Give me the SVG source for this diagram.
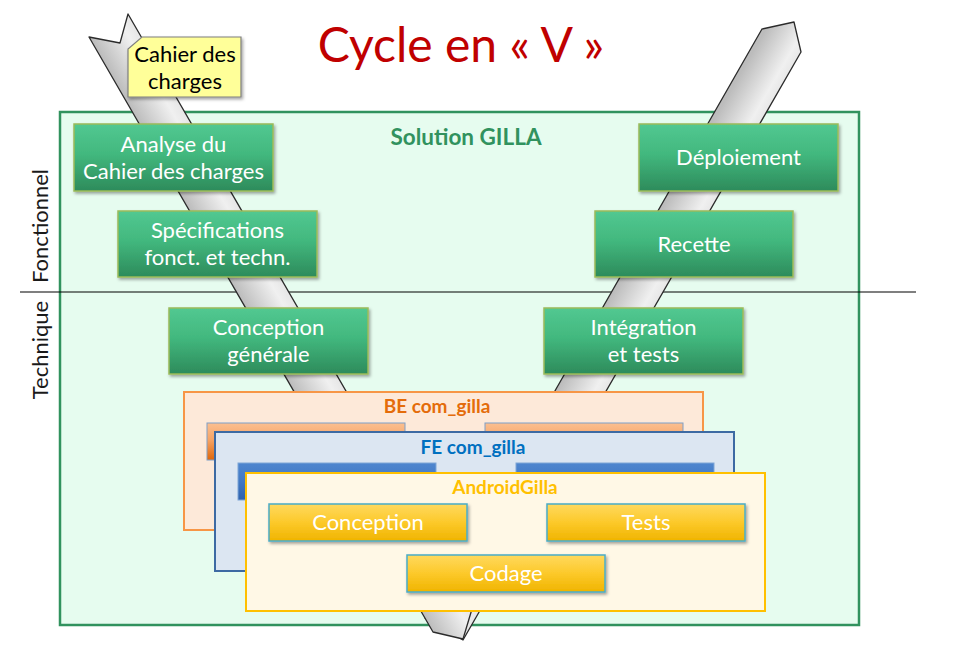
<svg xmlns="http://www.w3.org/2000/svg" width="959" height="658" viewBox="0 0 959 658">
<style>
  text { font-family: Lato, "Liberation Sans", sans-serif; }
  .box { stroke: #9bbb59; stroke-width: 1.5; fill: url(#gGreen); filter: url(#sh); }
  .bt { fill: #ffffff; font-size: 22px; text-anchor: middle; }
  .arm { stroke: #2b2b2b; stroke-width: 1.3; stroke-linejoin: round; }
  .ybox { stroke: #4bacc6; stroke-width: 1.5; fill: url(#gYellow); filter: url(#sh); }
  .side { fill: #1a1a1a; font-size: 22px; text-anchor: middle; }
  .ttl { font-weight: bold; font-size: 19px; text-anchor: middle; }
</style>
<defs>
  <linearGradient id="gGreen" x1="0" y1="0" x2="0" y2="1">
    <stop offset="0" stop-color="#52c891"/>
    <stop offset="0.45" stop-color="#42b87e"/>
    <stop offset="1" stop-color="#2d8b5b"/>
  </linearGradient>
  <linearGradient id="gYellow" x1="0" y1="0" x2="0" y2="1">
    <stop offset="0" stop-color="#ffd95e"/>
    <stop offset="0.5" stop-color="#fcc92a"/>
    <stop offset="1" stop-color="#f0b400"/>
  </linearGradient>
  <linearGradient id="gOrange" x1="0" y1="0" x2="0" y2="1">
    <stop offset="0" stop-color="#fbbf90"/>
    <stop offset="0.45" stop-color="#f6a466"/>
    <stop offset="1" stop-color="#e0670a"/>
  </linearGradient>
  <linearGradient id="gBlue" x1="0" y1="0" x2="0" y2="1">
    <stop offset="0" stop-color="#4f86cf"/>
    <stop offset="0.5" stop-color="#4178c3"/>
    <stop offset="1" stop-color="#2f62ad"/>
  </linearGradient>
  <linearGradient id="gArmL" gradientUnits="userSpaceOnUse" x1="433" y1="632" x2="472" y2="609.5">
    <stop offset="0" stop-color="#bcbcbc"/>
    <stop offset="0.75" stop-color="#f0f0f0"/>
    <stop offset="1" stop-color="#e6e6e6"/>
  </linearGradient>
  <linearGradient id="gArmR" gradientUnits="userSpaceOnUse" x1="425" y1="618" x2="463" y2="640">
    <stop offset="0" stop-color="#bcbcbc"/>
    <stop offset="0.75" stop-color="#f0f0f0"/>
    <stop offset="1" stop-color="#e6e6e6"/>
  </linearGradient>
  <filter id="sh" x="-10%" y="-15%" width="125%" height="145%">
    <feDropShadow dx="1.5" dy="2" stdDeviation="1.5" flood-color="#000" flood-opacity="0.35"/>
  </filter>
</defs>

<rect width="959" height="658" fill="#ffffff"/>

<g id="title">
  <text x="461" y="62" fill="#c00000" style="font-size:48px" text-anchor="middle">Cycle en « V »</text>
</g>

<g id="solution-gilla">
  <rect x="60" y="112" width="799" height="513" fill="#e6fcef" stroke="#31925e" stroke-width="2.5"/>
  <text x="466" y="145" class="ttl" fill="#31925e" style="font-size:22.5px">Solution GILLA</text>
</g>

<g id="connectors">
  <line x1="20" y1="292" x2="916" y2="292" stroke="#000" stroke-width="1.2"/>
  <polygon class="arm" fill="url(#gArmR)" points="425,618 762,29 794,22 801,52 463,640"/>
  <polygon class="arm" fill="url(#gArmL)" points="128,14 472,609 463,639 433,632 89,37 120,43"/>
</g>

<g id="label-fonctionnel">
  <text class="side" transform="translate(48,226) rotate(-90)">Fonctionnel</text>
</g>
<g id="label-technique">
  <text class="side" transform="translate(48,350) rotate(-90)">Technique</text>
</g>

<g id="cahier-des-charges">
  <polygon points="142,37 241,37 241,97 128,97 128,49" fill="#ffff99" stroke="#7f7f7f" stroke-width="1.2" filter="url(#sh)"/>
  <text x="185" y="62" fill="#000" font-size="22" text-anchor="middle">Cahier des</text>
  <text x="185" y="89" fill="#000" font-size="22" text-anchor="middle">charges</text>
</g>

<g id="analyse">
  <rect class="box" x="74" y="124" width="199" height="67"/>
  <text class="bt" x="173.5" y="151.5">Analyse du</text>
  <text class="bt" x="173.5" y="179">Cahier des charges</text>
</g>
<g id="specifications">
  <rect class="box" x="118" y="211" width="199" height="66"/>
  <text class="bt" x="217.5" y="237.5">Spécifications</text>
  <text class="bt" x="217.5" y="265">fonct. et techn.</text>
</g>
<g id="conception-generale">
  <rect class="box" x="169" y="308" width="199" height="66"/>
  <text class="bt" x="268.5" y="334.5">Conception</text>
  <text class="bt" x="268.5" y="362">générale</text>
</g>
<g id="deploiement">
  <rect class="box" x="639" y="124" width="199" height="67"/>
  <text class="bt" x="738.5" y="165">Déploiement</text>
</g>
<g id="recette">
  <rect class="box" x="595" y="211" width="198" height="66"/>
  <text class="bt" x="694" y="251.5">Recette</text>
</g>
<g id="integration">
  <rect class="box" x="544" y="308" width="199" height="66"/>
  <text class="bt" x="643.5" y="334.5">Intégration</text>
  <text class="bt" x="643.5" y="362">et tests</text>
</g>

<g id="be-com-gilla">
  <rect x="184" y="392" width="519" height="138" fill="#fde9d9" stroke="#f79646" stroke-width="2"/>
  <text class="ttl" x="437" y="413" fill="#e46c0a">BE com_gilla</text>
  <rect x="207" y="423" width="198" height="37" fill="url(#gOrange)" stroke="#7f9fc7" stroke-width="1"/>
  <rect x="485" y="423" width="198" height="37" fill="url(#gOrange)" stroke="#7f9fc7" stroke-width="1"/>
</g>

<g id="fe-com-gilla">
  <rect x="215" y="432" width="519" height="139" fill="#dce6f2" stroke="#3d6aa3" stroke-width="2"/>
  <text class="ttl" x="473" y="454" fill="#0070c0">FE com_gilla</text>
  <rect x="238" y="463" width="198" height="37" fill="url(#gBlue)" stroke="#7fa6d6" stroke-width="1"/>
  <rect x="516" y="463" width="198" height="37" fill="url(#gBlue)" stroke="#7fa6d6" stroke-width="1"/>
</g>

<g id="android-gilla">
  <rect x="246" y="473" width="519" height="138" fill="#fff8e6" stroke="#ffc000" stroke-width="2"/>
  <text class="ttl" x="505" y="494" fill="#ffc000">AndroidGilla</text>
</g>
<g id="conception">
  <rect class="ybox" x="269" y="504" width="198" height="37"/>
  <text class="bt" x="368" y="530">Conception</text>
</g>
<g id="tests">
  <rect class="ybox" x="547" y="504" width="198" height="37"/>
  <text class="bt" x="646" y="530">Tests</text>
</g>
<g id="codage">
  <rect class="ybox" x="407" y="555" width="198" height="37"/>
  <text class="bt" x="506" y="581">Codage</text>
</g>
</svg>
